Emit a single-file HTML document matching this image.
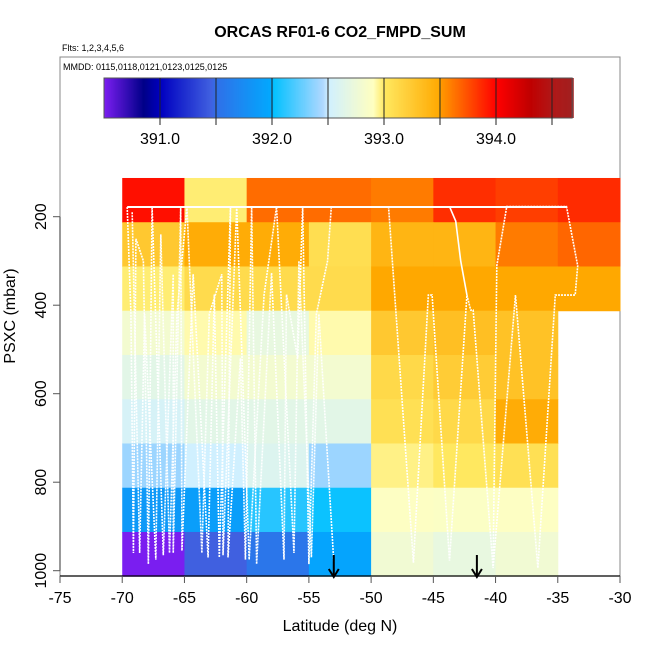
<!DOCTYPE html>
<html><head><meta charset="utf-8"><style>
html,body{margin:0;padding:0;background:#fff;}
svg{display:block;font-family:"Liberation Sans",sans-serif;}
</style></head><body>
<svg id="chart" width="650" height="650" viewBox="0 0 650 650" xmlns="http://www.w3.org/2000/svg">
<text x="340" y="37" text-anchor="middle" font-size="16" font-weight="bold">ORCAS RF01-6 CO2_FMPD_SUM</text>
<text x="62" y="51" font-size="9">Flts: 1,2,3,4,5,6</text>
<rect x="60" y="57" width="560" height="519" fill="none" stroke="#888" stroke-width="1"/>
<text x="63" y="70" font-size="9">MMDD: 0115,0118,0121,0123,0125,0125</text>
<g id="cells"></g>
<g id="tracks"></g>
<g id="cbar"></g>
<g id="axes"></g>
<text x="340" y="631" text-anchor="middle" font-size="16">Latitude (deg N)</text>
<text transform="translate(15,316) rotate(-90)" text-anchor="middle" font-size="16">PSXC (mbar)</text>
</svg>
<script>
// data
const latBins = [-70,-65,-60,-55,-50,-45,-40,-35];
const presBins = [112.5,212.5,312.5,412.5,512.5,612.5,712.5,812.5,912.5];
const co2Rows = [
 [393.95,392.98,393.65,393.65,393.6,393.85,393.8,393.86],
 [393.25,393.47,393.47,393.08,393.4,393.4,393.6,393.67],
 [392.98,393.1,393.1,393.1,393.5,393.5,393.5,393.5],
 [392.8,392.92,392.7,392.92,393.25,393.32,393.3,null],
 [392.65,392.8,392.8,392.8,393.12,393.22,393.3,null],
 [392.55,392.65,392.65,392.65,393.06,393.12,393.47,null],
 [392.4,392.5,392.6,392.4,392.96,393.0,393.06,null],
 [391.85,391.9,392.1,392.03,392.88,392.87,392.88,null],
 [390.5,391.45,391.55,391.95,392.78,392.7,392.78,null]
];
const cbarTicks = [391.0,392.0,393.0,394.0];
const cbarLines = [391.0,391.5,392.0,392.5,393.0,393.5,394.0,394.5];
const xTicks = [-75,-70,-65,-60,-55,-50,-45,-40,-35,-30];
const yTicks = [200,400,600,800,1000];
const trackLeft = [[-69.6,178],[-69.3,420],[-69.1,960],[-68.9,250],[-68.3,300],[-67.9,985],[-67.6,178],[-66.7,965],[-65.9,330],[-65.9,960],[-65.3,178],[-65.2,955],[-64.3,330],[-63.1,970],[-62.6,376],[-62.2,970],[-61.3,178],[-61.5,970],[-60.5,520],[-60.1,975],[-59.6,178],[-59.2,985],[-58.0,327],[-57.0,975],[-56.8,376],[-55.9,520],[-55.5,178],[-55.0,985],[-54.4,420],[-53.5,300],[-53.2,178]];
const trackLeft2 = [[-69.2,190],[-68.6,960],[-68.2,420],[-67.3,975],[-66.9,240],[-66.2,960],[-65.6,420],[-64.8,178],[-63.6,960],[-63.0,420],[-62.0,330],[-61.9,965],[-60.8,178],[-59.8,975],[-58.6,376],[-57.6,178],[-56.2,960],[-55.8,300],[-54.8,970],[-54.2,420],[-53.0,980]];
const trackRight = [[-48.6,177],[-46.6,982],[-45.4,377],[-45.1,377],[-43.7,977],[-42.3,377],[-42.0,411],[-41.8,411],[-40.2,994],[-38.4,377],[-36.6,994],[-35.2,377],[-33.6,377],[-33.4,311],[-34.3,177],[-39.1,177],[-39.9,311],[-40.2,994]];
const trackRight2 = [[-43.7,177],[-43.2,210],[-42.8,300],[-42.3,377]];
const trackTop = [[-69.6,178],[-34.3,178]];
const arrowLats = [-53.0,-41.5];

const NS="http://www.w3.org/2000/svg";
const X = lat => 60 + (lat+75)*560/45;
const Y = p => 216.7 + (p-200)*0.4425;
const CB = v => 104 + (v-390.5)*112;
const stops=[[390.5,"#7a1ef0"],[390.85,"#000088"],[391.0,"#0000c0"],[391.45,"#4060e0"],[391.5,"#3070e8"],[392.0,"#00aaff"],[392.001,"#00c0ff"],[392.45,"#b0d8ff"],[392.5,"#d0f0ff"],[392.9,"#ffffc0"],[393.0,"#ffe860"],[393.5,"#ffa800"],[393.501,"#ff9a00"],[394.0,"#ff0000"],[394.3,"#c00000"],[394.5,"#b01818"],[394.7,"#a02020"]];
function hex(c){return [1,3,5].map(i=>parseInt(c.substr(i,2),16));}
function cmap(v){
  if(v<=stops[0][0])return stops[0][1];
  for(let i=1;i<stops.length;i++){if(v<=stops[i][0]){const a=stops[i-1],b=stops[i];const t=(v-a[0])/(b[0]-a[0]);const ca=hex(a[1]),cb=hex(b[1]);return "rgb("+ca.map((x,k)=>Math.round(x+(cb[k]-x)*t)).join(",")+")";}}
  return stops[stops.length-1][1];
}
function el(tag,attrs,parent){const e=document.createElementNS(NS,tag);for(const k in attrs)e.setAttribute(k,attrs[k]);parent.appendChild(e);return e;}

const cells=document.getElementById('cells');
co2Rows.forEach((row,r)=>row.forEach((v,c)=>{
  if(v===null)return;
  const x0=X(latBins[c]),x1=X(latBins[c]+5),y0=Y(presBins[r]),y1=Y(presBins[r]+100);
  const e=el('rect',{x:x0,y:y0,width:x1-x0+0.5,height:y1-y0+0.5,fill:cmap(v)},cells);
  
  
}));

const tracks=document.getElementById('tracks');
function poly(pts,dash,w,name){
  const e=el('polyline',{points:pts.map(p=>X(p[0])+","+Y(p[1])).join(" "),fill:"none",stroke:"#fff","stroke-width":w,"stroke-dasharray":dash},tracks);
  
  
}
poly(trackLeft,"2 1",1.6,'track-left');
poly(trackLeft2,"2 1",1.6,'track-left-return');
poly(trackRight,"2 1",1.6,'track-right');
poly(trackRight2,"none",1.6,'track-right-segment');
poly(trackTop,"none",2,'track-cruise-level');
arrowLats.forEach(lat=>{
  const x=X(lat);
  const g=el('g',{},tracks);
  
  
  el('line',{x1:x,y1:555,x2:x,y2:577,stroke:"#000","stroke-width":2},g);
  el('polyline',{points:(x-5)+",569 "+x+",577 "+(x+5)+",569",fill:"none",stroke:"#000","stroke-width":2},g);
});

const cb=document.getElementById('cbar');
for(let v=390.5;v<394.68;v+=0.01){
  el('rect',{x:CB(v),y:78,width:1.6,height:40,fill:cmap(v)},cb);
}
const cbf=el('rect',{x:104,y:78,width:CB(394.68)-104,height:40,fill:"none",stroke:"#555","stroke-width":1},cb);


cbarLines.forEach(v=>{
  el('line',{x1:CB(v),y1:78,x2:CB(v),y2:125,stroke:"#222","stroke-width":1},cb);
});
cbarTicks.forEach(v=>{
  const t=el('text',{x:CB(v),y:144,"text-anchor":"middle","font-size":16},cb);
  t.textContent=v.toFixed(1);
  
  
});

const ax=document.getElementById('axes');
el('line',{x1:60,y1:576,x2:620,y2:576,stroke:"#000","stroke-width":1.2},ax);
el('line',{x1:60,y1:Y(200),x2:60,y2:Y(1000),stroke:"#555","stroke-width":1.2},ax);
xTicks.forEach(v=>{
  el('line',{x1:X(v),y1:576,x2:X(v),y2:583,stroke:"#555","stroke-width":1},ax);
  const t=el('text',{x:X(v),y:603,"text-anchor":"middle","font-size":16},ax);
  t.textContent=v;
  
  
});
yTicks.forEach(v=>{
  el('line',{x1:53,y1:Y(v),x2:60,y2:Y(v),stroke:"#555","stroke-width":1},ax);
  const t=el('text',{transform:"translate(46,"+Y(v)+") rotate(-90)","text-anchor":"middle","font-size":16},ax);
  t.textContent=v;
  
  
});
</script>
</body></html>
